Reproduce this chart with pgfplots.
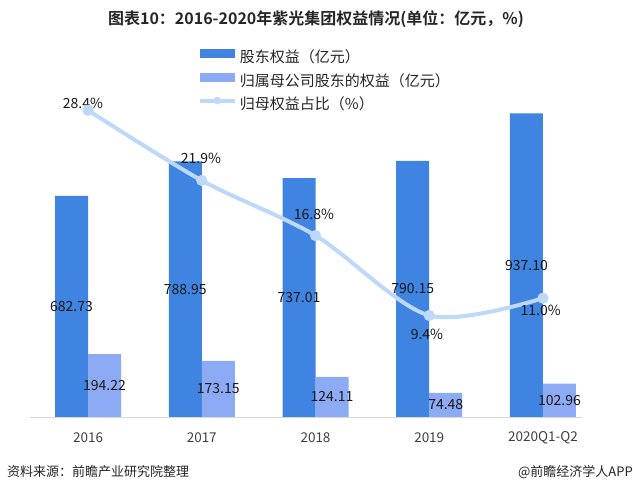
\documentclass[border=0pt]{standalone}
\usepackage{pgfplots}
\pgfplotsset{compat=1.18}
\usepackage{fontspec}
\setmainfont{Noto Sans CJK SC}[BoldFont={Noto Sans CJK SC Bold}]
\definecolor{darkbar}{RGB}{62,132,224}
\definecolor{lightbar}{RGB}{141,170,245}
\definecolor{linec}{RGB}{190,216,250}
\definecolor{txt}{RGB}{38,38,38}
\definecolor{ticktxt}{RGB}{64,64,64}
\begin{document}
\begin{tikzpicture}
\useasboundingbox (0,0) rectangle (633bp,493bp);
\fill[white] (0,0) rectangle (633bp,493bp);
% title
\node[font=\fontsize{16bp}{18bp}\selectfont\bfseries, text=txt] at (316bp,474bp) {图表10：2016-2020年紫光集团权益情况(单位：亿元，\%)};
% footer
\node[font=\fontsize{13bp}{15bp}\selectfont, text=txt, anchor=west, inner sep=0pt] at (7bp,21bp) {资料来源：前瞻产业研究院整理};
\node[font=\fontsize{13bp}{15bp}\selectfont, text=txt, anchor=east, inner sep=0pt] at (633bp,21bp) {@前瞻经济学人APP};

\begin{axis}[
  at={(30bp,76bp)}, anchor=south west,
  scale only axis, width=552bp, height=324bp,
  xmin=-0.51, xmax=4.343, ymin=0, ymax=1000,
  axis x line=bottom, axis y line=none,
  x axis line style={draw=black!15, line width=0.8bp, -},
  xtick={0,1,2,3,4},
  xticklabels={2016,2017,2018,2019,2020Q1-Q2},
  xtick style={draw=none},
  x tick label style={font=\fontsize{13.5bp}{15bp}\selectfont, text=ticktxt, anchor=center, yshift=-19bp},
  ytick=\empty,
  clip=false,
  legend style={draw=none, fill=none, at={(0.3043,1.136)}, anchor=north west,
    inner sep=0pt, outer sep=0pt, row sep=6.5bp, column sep=2bp,
    font=\fontsize{15bp}{16bp}\selectfont, text=txt,
    nodes={inner sep=1bp, text height=11bp, text depth=3bp}},
  legend cell align=left,
]
\addplot[ybar, bar width=33bp, bar shift=-16.5bp, fill=darkbar, draw=none,
  legend image code/.code={\fill[darkbar] (0bp,0.5bp) rectangle (35bp,9.5bp);}]
  coordinates {(0,682.73) (1,788.95) (2,737.01) (3,790.15) (4,937.10)};
\addlegendentry{股东权益（亿元）}
\addplot[ybar, bar width=33bp, bar shift=16.5bp, fill=lightbar, draw=none,
  legend image code/.code={\fill[lightbar] (0bp,0.5bp) rectangle (35bp,9.5bp);}]
  coordinates {(0,194.22) (1,173.15) (2,124.11) (3,74.48) (4,102.96)};
\addlegendentry{归属母公司股东的权益（亿元）}
\addlegendimage{legend image code/.code={\draw[linec, line width=4bp] (0bp,5bp) -- (35bp,5bp); \fill[linec] (17.5bp,5bp) circle (3.5bp);}}
\addlegendentry{归母权益占比（\%）}
% value labels
\begin{scope}[every node/.style={font=\fontsize{14bp}{16bp}\selectfont, text=black!90, anchor=center, inner sep=0pt}]
\node[xshift=-16.5bp] at (axis cs:0,341.37) {682.73};
\node[xshift=-16.5bp] at (axis cs:1,394.48) {788.95};
\node[xshift=-16.5bp] at (axis cs:2,368.51) {737.01};
\node[xshift=-16.5bp] at (axis cs:3,395.08) {790.15};
\node[xshift=-16.5bp] at (axis cs:4,468.55) {937.10};
\node[xshift=16.5bp] at (axis cs:0,97.11) {194.22};
\node[xshift=16.5bp] at (axis cs:1,86.58) {173.15};
\node[xshift=16.5bp] at (axis cs:2,62.06) {124.11};
\node[xshift=16.5bp] at (axis cs:3,37.24) {74.48};
\node[xshift=16.5bp] at (axis cs:4,51.48) {102.96};
\end{scope}
\end{axis}

\begin{axis}[
  at={(30bp,76bp)}, anchor=south west,
  scale only axis, width=552bp, height=324bp,
  xmin=-0.51, xmax=4.343, ymin=0, ymax=30,
  hide axis, clip=false,
]
\addplot[smooth, line width=4bp, color=linec, mark=*, mark size=3.5bp,
  mark options={fill=linec, draw=none}]
  coordinates {(0,28.4) (1,21.9) (2,16.8) (3,9.4) (4,11.0)};
\begin{scope}[every node/.style={font=\fontsize{14bp}{16bp}\selectfont, text=black!90, anchor=center, inner sep=0pt}]
\node at (axis cs:-0.044,29.07) {28.4\%};
\node at (axis cs:0.993,23.98) {21.9\%};
\node at (axis cs:1.987,18.8) {16.8\%};
\node at (axis cs:2.98,7.69) {9.4\%};
\node at (axis cs:3.98,9.91) {11.0\%};
\end{scope}
\end{axis}
\end{tikzpicture}
\end{document}
